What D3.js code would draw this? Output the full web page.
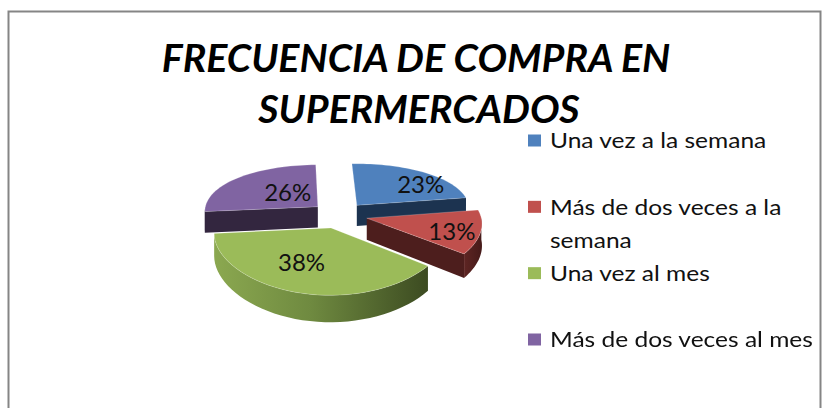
<!DOCTYPE html>
<html>
<head>
<meta charset="utf-8">
<script src="https://cdn.jsdelivr.net/npm/d3@7"></script>
<style>
html, body { margin: 0; padding: 0; background: #fff; overflow: hidden; }
svg { display: block; filter: blur(0.6px); }
text { font-family: Lato, "Open Sans", sans-serif; fill: #111; }
</style>
</head>
<body>
<svg width="824" height="408"></svg>
<script>
var categories = ["Una vez a la semana", "Más de dos veces a la semana", "Una vez al mes", "Más de dos veces al mes"];
var values = [23, 13, 38, 26];
var legendLines = [["Una vez a la semana"], ["Más de dos veces a la", "semana"], ["Una vez al mes"], ["Más de dos veces al mes"]];
var titleLines = ["FRECUENCIA DE COMPRA EN", "SUPERMERCADOS"];

var topColors = ["#4f81bd", "#c0504d", "#9bbb59", "#8064a2"];
var wallColors = ["#1c3350", "#4d1e1d", "#4d1e1d", "#33263f"];

var svg = d3.select("svg");

var cx = 339, cy = 215,
    rx = 114, ry = 51.5,
    persp = 0.165,
    depth = 21.4,
    explode = 0.25;

// disc coordinates: u to the right, v towards the viewer
function project(u, v, z) {
    var s = 1 / (1 - persp * v);
    return [cx + u * rx * Math.sqrt(s), cy + v * ry * s + z * depth * s];
}

function slicePoint(d, r, a, z) {
    var mid = (d.startAngle + d.endAngle) / 2;
    var u = explode * Math.sin(mid) + r * Math.sin(a);
    var v = -explode * Math.cos(mid) - r * Math.cos(a);
    return project(u, v, z);
}

function rimAngles(a0, a1) {
    return d3.range(0, 41).map(function(i) {
        return a0 + (a1 - a0) * i / 40;
    });
}

var pie = d3.pie()
    .sort(null)
    .startAngle(-2 * Math.PI / 180)
    .endAngle(358 * Math.PI / 180);

var arcs = pie(values).map(function(d, i) {
    d.index = i;
    return d;
});

var line = d3.line();

var defs = svg.append("defs");
var greenGrad = defs.append("linearGradient")
    .attr("id", "green-rim");
greenGrad.append("stop").attr("offset", "0%").attr("stop-color", "#8ba850");
greenGrad.append("stop").attr("offset", "45%").attr("stop-color", "#6f8a40");
greenGrad.append("stop").attr("offset", "100%").attr("stop-color", "#3c4b21");

var redGrad = defs.append("linearGradient")
    .attr("id", "red-rim");
redGrad.append("stop").attr("offset", "0%").attr("stop-color", "#5e2523");
redGrad.append("stop").attr("offset", "100%").attr("stop-color", "#451a19");

var rimFill = { 1: "url(#red-rim)", 2: "url(#green-rim)" };

// border
svg.append("rect")
    .attr("x", 8.5)
    .attr("y", 11.5)
    .attr("width", 812)
    .attr("height", 420)
    .attr("fill", "#fff")
    .attr("stroke", "#858585")
    .attr("stroke-width", 2);

// title
svg.selectAll(".title")
    .data(titleLines)
    .enter().append("text")
    .attr("class", "title")
    .attr("transform", function(d, i) { return "translate(" + (416 + i * 3) + "," + (72 + i * 51) + ") scale(1.035,1)"; })
    .attr("text-anchor", "middle")
    .style("font-size", "38px")
    .style("font-weight", "700")
    .style("font-style", "italic")
    .style("fill", "#000")
    .text(function(d) { return d; });

// slices, back ones first
var order = arcs.slice().sort(function(a, b) {
    return Math.cos((b.startAngle + b.endAngle) / 2) - Math.cos((a.startAngle + a.endAngle) / 2);
});

order.forEach(function(d) {
    var g = svg.append("g");
    var i = d.index;
    var halfPi = Math.PI / 2;

    // cut faces, only the ones turned to the viewer
    [d.startAngle, d.endAngle].forEach(function(a, k) {
        var normal = k === 0 ? a - halfPi : a + halfPi;
        if (-Math.cos(normal) <= 0.1) return;
        g.append("path")
            .attr("d", line([slicePoint(d, 0, a, 0), slicePoint(d, 1, a, 0), slicePoint(d, 1, a, 1), slicePoint(d, 0, a, 1)]) + "Z")
            .attr("fill", wallColors[i]);
    });

    // outer wall on the near half
    var a0 = Math.max(d.startAngle, halfPi),
        a1 = Math.min(d.endAngle, 3 * halfPi);
    if (a1 > a0) {
        var angles = rimAngles(a0, a1);
        var pts = angles.map(function(a) { return slicePoint(d, 1, a, 0); })
            .concat(angles.slice().reverse().map(function(a) { return slicePoint(d, 1, a, 1); }));
        g.append("path")
            .attr("d", line(pts) + "Z")
            .attr("fill", rimFill[i] || wallColors[i]);
    }

    // top
    var top = [slicePoint(d, 0, d.startAngle, 0)]
        .concat(rimAngles(d.startAngle, d.endAngle).map(function(a) { return slicePoint(d, 1, a, 0); }));
    g.append("path")
        .attr("d", line(top) + "Z")
        .attr("fill", topColors[i])
        .attr("stroke", "#fff")
        .attr("stroke-opacity", 0.35)
        .attr("stroke-width", 0.6);
});

// data labels, nudged off the slice middle the way the original sits
var labelShift = [[22, 1], [15, 6], [-8, -2], [20, 5]];

svg.selectAll(".pct")
    .data(arcs)
    .enter().append("text")
    .attr("class", "pct")
    .attr("text-anchor", "middle")
    .attr("x", function(d) { return slicePoint(d, 0.62, (d.startAngle + d.endAngle) / 2, 0)[0] + labelShift[d.index][0]; })
    .attr("y", function(d) { return slicePoint(d, 0.62, (d.startAngle + d.endAngle) / 2, 0)[1] + 8 + labelShift[d.index][1]; })
    .style("font-size", "24px")
    .text(function(d) { return d.value + "%"; });

// legend
var legendY = d3.scalePoint()
    .domain(categories)
    .range([142, 341]);

var legend = svg.selectAll(".legend")
    .data(categories)
    .enter().append("g")
    .attr("class", "legend")
    .attr("transform", function(d) { return "translate(528," + legendY(d) + ")"; });

legend.append("rect")
    .attr("x", 0)
    .attr("y", -7.5)
    .attr("width", 13)
    .attr("height", 12)
    .attr("fill", function(d, i) { return topColors[i]; });

legend.each(function(d, i) {
    d3.select(this).selectAll("text")
        .data(legendLines[i])
        .enter().append("text")
        .attr("transform", function(t, j) { return "translate(22," + (j * 33) + ") scale(1.115,1)"; })
        .attr("dy", "0.29em")
        .style("font-size", "22px")
        .text(function(t) { return t; });
});
</script>
</body>
</html>
